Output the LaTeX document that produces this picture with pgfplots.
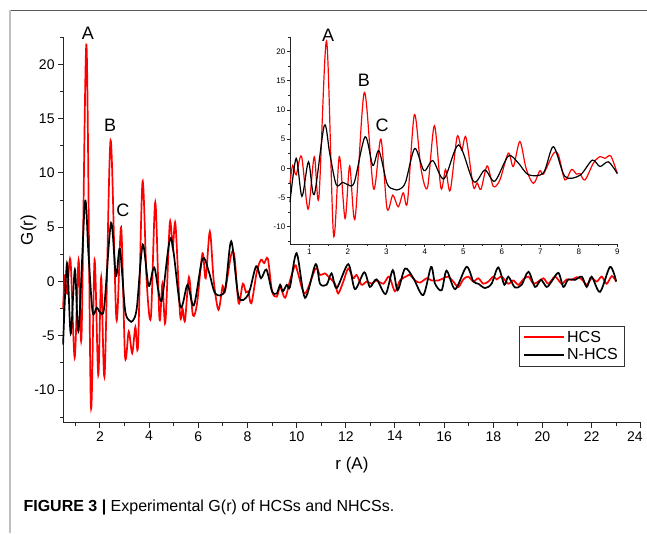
\documentclass[border=0pt]{standalone}
\usepackage{fontspec}
\setmainfont{Liberation Sans}
\usepackage{pgfplots}
\pgfplotsset{compat=1.18}

% HCS (red) and N-HCS (black)
\pgfplotstableread{
r g
0.50 -2.5
0.57 0.5
0.66 -1.1
0.80 2.0
0.97 -7.0
1.13 2.0
1.25 -5.0
1.45 21.8
1.63 -11.4
1.78 2.0
1.93 -8.6
2.05 0.4
2.19 -8.6
2.43 13.0
2.67 -3.5
2.86 5.0
3.02 -6.9
3.17 -4.6
3.31 -6.6
3.44 -4.2
3.55 -5.8
3.73 9.2
3.90 0.0
4.07 -3.3
4.25 7.3
4.42 -3.4
4.54 -0.2
4.66 -3.8
4.84 5.4
4.96 3.1
5.07 5.3
5.26 -3.1
5.36 -2.5
5.46 -3.6
5.62 0.4
5.78 -3.1
5.95 -2.0
6.17 2.6
6.30 0.3
6.47 4.6
6.63 0.0
6.82 -2.6
6.99 -0.4
7.08 -1.0
7.34 2.5
7.47 2.3
7.64 -2.0
7.81 -0.2
7.94 -1.0
8.03 -0.9
8.16 -2.0
8.38 0.9
8.55 2.0
8.68 1.7
8.83 2.1
9.00 -0.9
9.19 -1.4
9.33 -0.5
9.53 -1.5
9.73 0.1
9.94 1.5
10.05 0.8
10.34 -1.1
10.77 1.2
10.95 0.6
11.15 0.75
11.29 0.45
11.56 -0.2
11.69 -1.1
11.90 0.0
12.10 1.2
12.30 0.3
12.44 0.6
12.64 -0.3
12.85 0.0
13.05 -0.2
13.25 0.1
13.53 -0.2
13.76 0.45
14.00 -0.9
14.20 0.1
14.48 0.5
14.61 0.6
14.82 0.1
15.02 -0.1
15.29 0.3
15.49 0.1
15.76 0.1
15.97 0.3
16.17 0.45
16.37 0.0
16.58 -0.5
16.78 0.2
16.98 0.45
17.19 0.0
17.39 0.3
17.59 -0.2
17.80 0.0
18.00 0.45
18.14 0.2
18.34 0.45
18.61 -0.2
18.81 0.1
19.02 -0.3
19.22 0.2
19.43 0.45
19.63 -0.2
19.83 0.0
20.04 0.3
20.24 -0.2
20.51 0.45
20.78 -0.2
20.99 0.2
21.19 0.15
21.39 0.4
21.60 0.2
21.80 -0.3
22.00 0.3
22.21 0.0
22.41 0.45
22.61 -0.2
22.82 0.5
23.00 0.0
}\hcs

\pgfplotstableread{
r g
0.50 -5.8
0.66 1.7
0.81 -4.8
0.98 1.1
1.13 -4.5
1.39 7.3
1.53 2.6
1.70 -2.8
1.87 -2.4
2.00 -2.8
2.17 -2.4
2.45 5.4
2.65 0.5
2.81 3.0
3.02 -2.6
3.20 -3.6
3.34 -3.6
3.50 -2.4
3.74 3.4
3.98 -0.4
4.21 1.3
4.50 -1.8
4.88 4.0
5.27 -2.3
5.56 -0.3
5.82 -2.2
6.17 2.1
6.43 0.9
6.69 -1.1
7.08 -0.8
7.34 3.7
7.64 -1.4
8.03 -1.2
8.35 1.4
8.55 0.3
8.77 1.1
9.00 -0.9
9.19 -1.1
9.33 -0.3
9.44 -0.9
9.60 -0.3
9.73 -0.5
10.00 2.6
10.34 -1.5
10.77 1.6
10.95 -0.2
11.22 -0.3
11.42 0.75
11.63 -0.6
12.10 1.6
12.37 -0.7
12.75 0.85
12.98 -0.5
13.25 0.2
13.62 -1.15
13.91 1.05
14.11 -0.8
14.41 1.2
14.75 0.3
15.15 -1.25
15.47 1.35
15.63 -0.2
15.90 -0.8
16.10 1.0
16.45 -0.7
16.91 1.35
17.19 0.0
17.39 -0.2
17.66 -0.6
17.93 -0.2
18.20 1.3
18.45 -0.3
18.61 0.45
18.88 -0.55
19.15 -0.3
19.43 0.9
19.70 -0.5
19.94 0.15
20.17 -0.5
20.37 0.0
20.65 0.8
20.85 -0.5
21.05 0.2
21.32 0.15
21.60 0.45
21.80 -0.5
22.00 0.45
22.34 -0.95
22.75 1.35
23.00 0.0
}\nhcs

\begin{document}
\begin{tikzpicture}
\useasboundingbox (0,0) rectangle (647pt,533pt);
% figure frame
\draw[black!65, line width=1pt] (10pt,522.3pt) -- (647pt,522.3pt);
\draw[black!25, line width=2.5pt] (10pt,0pt) -- (10pt,523pt);

\begin{axis}[
    at={(63.1pt,110.3pt)}, anchor=south west,
    scale only axis, width=577.7pt, height=385.5pt,
    xmin=0.5, xmax=24, ymin=-13, ymax=22.5,
    axis lines*=left, axis line style={-, black!85, line width=1.2pt},
    tick align=outside,
    xtick={2,4,...,22}, minor xtick={1,3,...,23},
    extra x ticks={24}, extra x tick labels={24},
    extra x tick style={xticklabel style={anchor=north east, xshift=5.5pt}},
    ytick={-10,-5,...,20}, minor ytick={-12.5,-7.5,...,22.5},
    major tick length=5pt, minor tick length=3pt,
    every tick/.style={black!85, line width=1pt},
    ticklabel style={font=\fontsize{14}{16}\selectfont},
    /pgf/number format/assume math mode=true,
    xlabel={r (A)}, ylabel={G(r)},
    every axis x label/.style={at={(axis description cs:0.5,-0.11)}, anchor=center,
        font=\fontsize{17}{19}\selectfont},
    every axis y label/.style={at={(axis description cs:-0.06,0.5)}, rotate=90, anchor=center,
        font=\fontsize{17}{19}\selectfont},
    clip=false,
    legend style={at={(0.971,0.251)}, anchor=north east, draw=black!80,
        font=\fontsize{16}{18}\selectfont, inner xsep=4pt, inner ysep=3pt,
        row sep=1pt},
    legend cell align=left,
    legend image code/.code={\draw[#1, line width=2pt] (0pt,0.5pt) -- (40pt,0.5pt);},
]
\addplot[red, line width=1.7pt, smooth, tension=0.5] table[x=r,y=g]{\hcs};
\addlegendentry{HCS}
\addplot[black, line width=1.7pt, smooth, tension=0.5] table[x=r,y=g]{\nhcs};
\addlegendentry{N-HCS}
\node[font=\fontsize{18}{20}\selectfont] at (axis cs:1.51,22.9) {A};
\node[font=\fontsize{18}{20}\selectfont] at (axis cs:2.41,14.4) {B};
\node[font=\fontsize{18}{20}\selectfont] at (axis cs:2.93,6.6) {C};
\end{axis}

\begin{axis}[
    at={(290pt,288.8pt)}, anchor=south west,
    scale only axis, width=327.3pt, height=207.3pt,
    xmin=0.5, xmax=9, ymin=-13, ymax=22.5,
    axis lines*=left, axis line style={-, black!85, line width=0.8pt},
    tick align=outside,
    xtick={1,...,9}, minor xtick={1.5,2.5,...,8.5},
    ytick={-10,-5,...,20}, minor ytick={-12.5,-7.5,...,22.5},
    major tick length=3pt, minor tick length=2pt,
    every tick/.style={black!85, line width=0.7pt},
    ticklabel style={font=\fontsize{8}{9}\selectfont, inner sep=1.5pt},
    /pgf/number format/assume math mode=true,
    clip=false,
]
\addplot[red, line width=1.2pt, smooth, tension=0.5, restrict x to domain=0.5:9] table[x=r,y=g]{\hcs};
\addplot[black, line width=1.2pt, smooth, tension=0.5, restrict x to domain=0.5:9] table[x=r,y=g]{\nhcs};
\node[font=\fontsize{18}{20}\selectfont] at (axis cs:1.49,22.8) {A};
\node[font=\fontsize{18}{20}\selectfont] at (axis cs:2.42,15.1) {B};
\node[font=\fontsize{18}{20}\selectfont] at (axis cs:2.89,7.4) {C};
\end{axis}

\node[anchor=base west, font=\fontsize{16}{18}\selectfont] at (20pt,22pt)
    {\textbf{FIGURE 3 |} Experimental G(r) of HCSs and NHCSs.};
\end{tikzpicture}
\end{document}
